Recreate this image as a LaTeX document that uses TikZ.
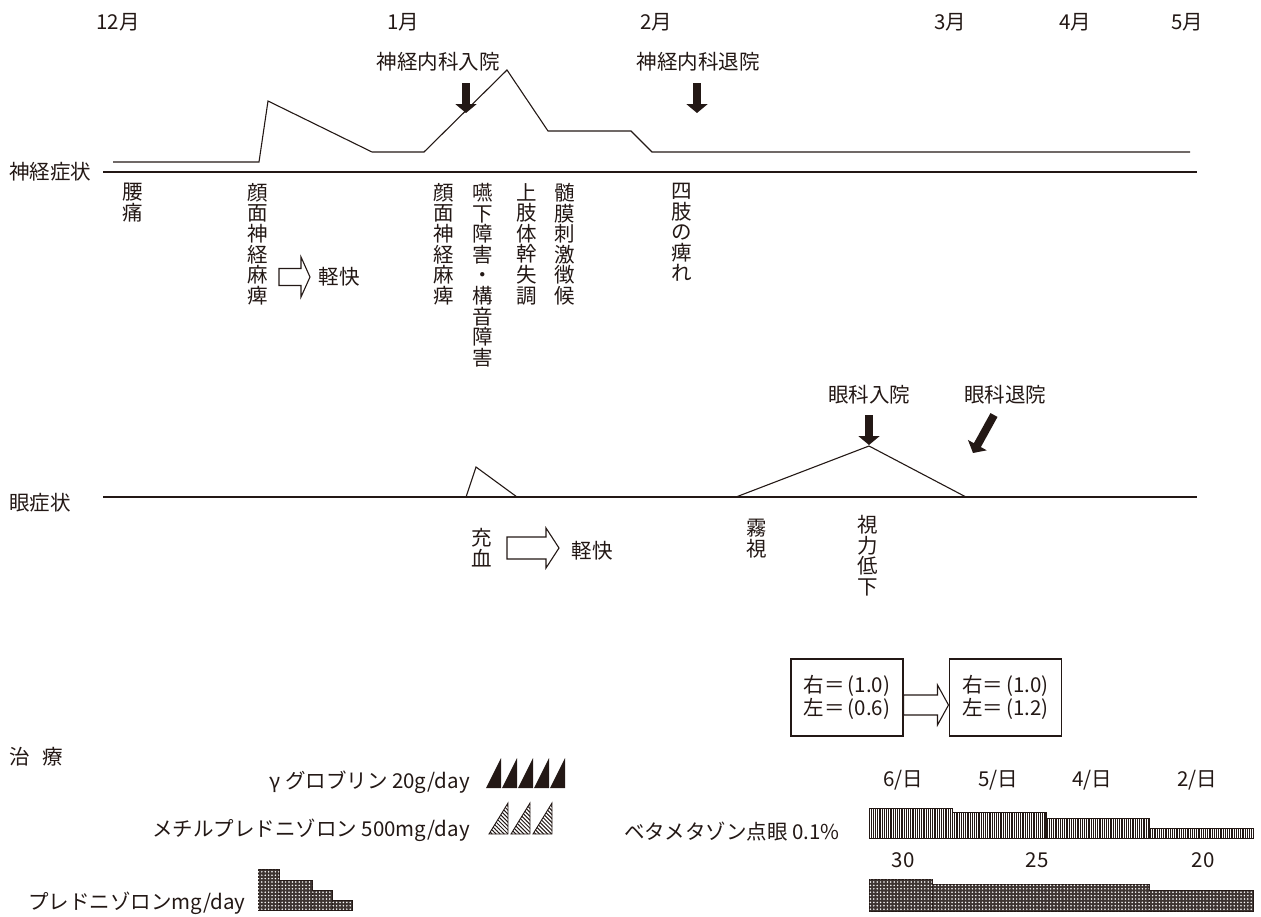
\documentclass[tikz,border=0pt]{standalone}
\usepackage{fontspec}
\setmainfont{Noto Sans CJK JP}
\usetikzlibrary{patterns.meta,arrows.meta}
\definecolor{ink}{HTML}{231815}
\newcommand{\openarr}[6]{%
  \draw[ink, line width=1.1pt, fill=white, line join=miter]
    (#1,#3-#4) -- (#2-#6,#3-#4) -- (#2-#6,#3-#5) -- (#2,#3) -- (#2-#6,#3+#5)
    -- (#2-#6,#3+#4) -- (#1,#3+#4) -- cycle;}
\tikzset{
  lbl/.style={font=\fontsize{20.5}{24}\selectfont, text=ink, inner sep=0pt},
  vtxt/.style={text=ink, inner sep=0pt, align=center, anchor=north,
    font=\fontsize{20.5}{20.6}\selectfont},
  curve/.style={draw=ink, line width=1.1pt, line join=miter},
  axisl/.style={draw=ink, line width=1.5pt},
  blk/.style={draw=ink, line width=8pt, -{Triangle[length=9pt,width=21pt]}},
  box/.style={draw=ink, line width=1.1pt, minimum width=112pt, minimum height=77pt,
    inner sep=0pt, align=center, text=ink, font=\fontsize{20.5}{23}\selectfont},
  gtri/.style={fill=ink},
  htri/.style={draw=ink, line width=0.9pt, pattern={Lines[angle=-45,distance=2.8pt,line width=1pt]}, pattern color=ink},
  vbar/.style={draw=ink, line width=0.9pt, pattern={Lines[angle=90,distance=2.2pt,line width=1.1pt]}, pattern color=ink},
  dbar/.style={draw=ink, line width=0.9pt, fill=ink!88, postaction={pattern={Dots[distance=3.4pt,radius=0.85pt]}, pattern color=white}},
}
\begin{document}
\begin{tikzpicture}[x=1pt,y=-1pt]
\useasboundingbox (0,0) rectangle (1261,916);
% months
\node[lbl] (m12) at (118,22) {12月};
\node[lbl] (m1) at (403,22) {1月};
\node[lbl] (m2) at (656,22) {2月};
\node[lbl] (m3) at (950,22) {3月};
\node[lbl] (m4) at (1075,22) {4月};
\node[lbl] (m5) at (1187,22) {5月};
% neuro
\node[lbl, anchor=west] (nlab) at (9,172) {神経症状};
\draw[axisl] (103,172) -- (1197,172);
\draw[curve] (113,162) -- (259,162) -- (268,101) -- (372,152) -- (424,152) -- (507,70)
  -- (548,131) -- (631,131) -- (652,152) -- (1190,152);
\node[lbl] (nin) at (438,62) {神経内科入院};
\node[lbl] (nout) at (698,62) {神経内科退院};
\coordinate (nin1) at (466,83); \coordinate (nin2) at (466,113);
\coordinate (nout1) at (697,83); \coordinate (nout2) at (697,113);
\draw[blk] (nin1) -- (nin2);
\draw[blk] (nout1) -- (nout2);
\node[vtxt] (v1) at (133,183) {腰\\痛};
\node[vtxt] (v2) at (258,183) {顔\\面\\神\\経\\麻\\痺};
\openarr{279}{310}{277}{8.5}{20}{9}
\node[lbl] (k1) at (339,277) {軽快};
\node[vtxt] (v3) at (444,183) {顔\\面\\神\\経\\麻\\痺};
\node[vtxt] (v4) at (483,183) {嚥\\下\\障\\害\\・\\構\\音\\障\\害};
\node[vtxt] (v5) at (527,183) {上\\肢\\体\\幹\\失\\調};
\node[vtxt] (v6) at (565,183) {髄\\膜\\刺\\激\\徴\\候};
\node[vtxt] (v7) at (682,183) {四\\肢\\の\\痺\\れ};
% eye
\node[lbl, anchor=west] (elab) at (9,503) {眼症状};
\draw[axisl] (103,497) -- (1197,497);
\draw[curve] (466,497) -- (476,467) -- (517,497);
\draw[curve] (736,497) -- (869,446) -- (966,497);
\node[lbl] (ein) at (869,395) {眼科入院};
\node[lbl] (eout) at (1005,395) {眼科退院};
\coordinate (ein1) at (869,415); \coordinate (ein2) at (869,445);
\coordinate (eout1) at (994,415); \coordinate (eout2) at (973,453);
\draw[blk] (ein1) -- (ein2);
\draw[blk] (eout1) -- (eout2);
\node[vtxt] (v8) at (482,528) {充\\血};
\openarr{507}{559}{548}{11}{20}{13}
\node[lbl] (k2) at (592,551) {軽快};
\node[vtxt] (v9) at (757,519) {霧\\視};
\node[vtxt] (v10) at (868,515) {視\\力\\低\\下};
% boxes
\node[box] (b1) at (847,697.5) {右＝\hspace{3pt}(1.0)\\左＝\hspace{3pt}(0.6)};
\node[box] (b2) at (1005.5,697.5) {右＝\hspace{3pt}(1.0)\\左＝\hspace{3pt}(1.2)};
\openarr{903.5}{948.5}{705}{10}{20}{11}
% treatment
\node[lbl, anchor=west] (tlab) at (9,757) {治\hspace{0.6em}療};
\node[lbl, anchor=east] (g) at (470,782) {γ グロブリン 20g/day};
\foreach \i in {0,...,4} {
  \fill[gtri] (486+16*\i,788) -- (501+16*\i,788) -- (501+16*\i,758) -- cycle;
}
\node[lbl, anchor=east] (mp) at (470,830) {メチルプレドニゾロン 500mg/day};
\foreach \i in {0,...,2} {
  \path[htri] (489+22*\i,834) -- (508+22*\i,834) -- (508+22*\i,803) -- cycle;
}
\node[lbl, anchor=west] (pd) at (28,903) {プレドニゾロンmg/day};
\path[dbar] (258,910) rectangle (279,869);
\path[dbar] (279,910) rectangle (312,880);
\path[dbar] (312,910) rectangle (332,890);
\path[dbar] (332,910) rectangle (352,900);
% betamethasone
\node[lbl, anchor=east] (bm) at (840,832) {ベタメタゾン点眼 0.1\%};
\node[lbl] (d6) at (903,780) {6/日};
\node[lbl] (d5) at (998,780) {5/日};
\node[lbl] (d4) at (1092,780) {4/日};
\node[lbl] (d2) at (1197,780) {2/日};
\path[vbar] (869,838) rectangle (952,808);
\path[vbar] (952,838) rectangle (1046,812);
\path[vbar] (1046,838) rectangle (1149,818);
\path[vbar] (1149,838) rectangle (1253,828);
\node[lbl] (p30) at (903,860) {30};
\node[lbl] (p25) at (1037,860) {25};
\node[lbl] (p20) at (1203,860) {20};
\path[dbar] (869,911) rectangle (932,879);
\path[dbar] (932,911) rectangle (1149,884);
\path[dbar] (1149,911) rectangle (1253,890);
\end{tikzpicture}
\end{document}
